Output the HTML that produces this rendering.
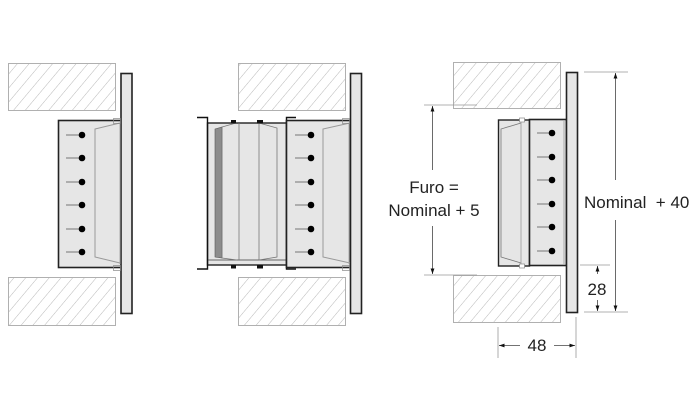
<!DOCTYPE html>
<html><head><style>
html,body{margin:0;padding:0;background:#fff;}
svg{display:block;}
text{font-family:"Liberation Sans",Arial,sans-serif;fill:#222;white-space:pre;}
</style></head><body>
<svg width="690" height="420" viewBox="0 0 690 420" xmlns="http://www.w3.org/2000/svg">
<defs>
<pattern id="h" patternUnits="userSpaceOnUse" width="9" height="9" patternTransform="rotate(40)">
<rect width="9" height="9" fill="#fff"/>
<line x1="0" y1="0" x2="0" y2="9" stroke="#b0b0b0" stroke-width="0.9"/>
</pattern>
<marker id="a" viewBox="0 0 10 10" refX="10" refY="5" markerWidth="7" markerHeight="7" orient="auto-start-reverse"><path d="M0,1.5 L10,5 L0,8.5 z" fill="#111"/></marker>
</defs>

<!-- hatched blocks -->
<g fill="url(#h)" stroke="#b0b0b0" stroke-width="1">
<rect x="8.5" y="63.5" width="107" height="47"/>
<rect x="8.5" y="277.5" width="107" height="48"/>
<rect x="238.5" y="63.5" width="107" height="47"/>
<rect x="238.5" y="277.5" width="107" height="48"/>
<rect x="453.5" y="62.5" width="107" height="46"/>
<rect x="453.5" y="275.5" width="107" height="47"/>
</g>

<!-- PANEL 1 -->
<rect x="58.5" y="120.5" width="63" height="147" fill="#e6e6e6" stroke="#222" stroke-width="1.6"/>
<rect x="121" y="73.5" width="11" height="240" fill="#e6e6e6" stroke="#222" stroke-width="1.6"/>
<path d="M120,123 L95,129 L95,257 L120,263" fill="none" stroke="#999" stroke-width="1"/>
<line x1="120" y1="124" x2="120" y2="264" stroke="#aaa" stroke-width="1"/>
<rect x="113.5" y="118.5" width="7" height="5" fill="none" stroke="#888" stroke-width="0.7"/>
<rect x="113.5" y="265.5" width="7" height="5" fill="none" stroke="#888" stroke-width="0.7"/>
<g stroke="#777" stroke-width="1">
<line x1="66" y1="135" x2="81" y2="135"/><line x1="66" y1="158" x2="81" y2="158"/><line x1="66" y1="182" x2="81" y2="182"/><line x1="66" y1="205" x2="81" y2="205"/><line x1="66" y1="229" x2="81" y2="229"/><line x1="66" y1="252" x2="81" y2="252"/>
</g>
<g fill="#000"><circle cx="82" cy="135" r="3.3"/><circle cx="82" cy="158" r="3.3"/><circle cx="82" cy="182" r="3.3"/><circle cx="82" cy="205" r="3.3"/><circle cx="82" cy="229" r="3.3"/><circle cx="82" cy="252" r="3.3"/></g>

<!-- PANEL 2 -->
<rect x="207.5" y="123" width="79" height="142" fill="#e6e6e6" stroke="#222" stroke-width="1.4"/>
<line x1="207" y1="260" x2="286" y2="260" stroke="#666" stroke-width="1"/>
<polygon points="215,129 222,127 222,258 215,257" fill="#8c8c8c" stroke="#555" stroke-width="0.6"/>
<path d="M236,123 L222,127 L222,258 L237,260" fill="none" stroke="#777" stroke-width="0.8"/>
<line x1="239" y1="123" x2="239" y2="260" stroke="#777" stroke-width="0.8"/>
<line x1="259" y1="123" x2="259" y2="260" stroke="#777" stroke-width="0.8"/>
<path d="M259,123 L277,128 L277,257 L259,260" fill="none" stroke="#777" stroke-width="0.8"/>
<g fill="#111"><rect x="231" y="120" width="5" height="3.5"/><rect x="257" y="120" width="6" height="3.5"/><rect x="231" y="265" width="5" height="3.5"/><rect x="257" y="265" width="6" height="3.5"/></g>
<path d="M197,117.5 L207.5,117.5 L207.5,269 L197,269" fill="none" stroke="#111" stroke-width="1.4"/>
<path d="M296,117.5 L286.5,117.5 L286.5,269 L296,269" fill="none" stroke="#111" stroke-width="1.4"/>
<rect x="286.5" y="120.5" width="64" height="147" fill="#e6e6e6" stroke="#222" stroke-width="1.6"/>
<rect x="350.5" y="73.5" width="11" height="240" fill="#e6e6e6" stroke="#222" stroke-width="1.6"/>
<path d="M350,123 L323,129 L323,257 L350,263" fill="none" stroke="#999" stroke-width="1"/>
<line x1="349" y1="124" x2="349" y2="264" stroke="#aaa" stroke-width="1"/>
<rect x="342.5" y="118.5" width="7" height="5" fill="none" stroke="#888" stroke-width="0.7"/>
<rect x="342.5" y="265.5" width="7" height="5" fill="none" stroke="#888" stroke-width="0.7"/>
<g stroke="#777" stroke-width="1">
<line x1="295" y1="135" x2="310" y2="135"/><line x1="295" y1="158" x2="310" y2="158"/><line x1="295" y1="182" x2="310" y2="182"/><line x1="295" y1="205" x2="310" y2="205"/><line x1="295" y1="229" x2="310" y2="229"/><line x1="295" y1="252" x2="310" y2="252"/>
</g>
<g fill="#000"><circle cx="311" cy="135" r="3.3"/><circle cx="311" cy="158" r="3.3"/><circle cx="311" cy="182" r="3.3"/><circle cx="311" cy="205" r="3.3"/><circle cx="311" cy="229" r="3.3"/><circle cx="311" cy="252" r="3.3"/></g>

<!-- PANEL 3 -->
<rect x="498.5" y="120" width="31" height="146" fill="#e6e6e6" stroke="#222" stroke-width="1.4"/>
<path d="M521,123 L501,129 L501,257 L521,263" fill="none" stroke="#777" stroke-width="0.8"/>
<line x1="521" y1="121" x2="521" y2="265" stroke="#999" stroke-width="0.8"/>
<rect x="519.5" y="118" width="5" height="4" fill="#fff" stroke="#888" stroke-width="0.7"/>
<rect x="519.5" y="264" width="5" height="4" fill="#fff" stroke="#888" stroke-width="0.7"/>
<rect x="529.5" y="119.5" width="37" height="146" fill="#e6e6e6" stroke="#222" stroke-width="1.6"/>
<rect x="566.5" y="72.5" width="11" height="240" fill="#e6e6e6" stroke="#222" stroke-width="1.6"/>
<line x1="564" y1="121" x2="564" y2="264" stroke="#aaa" stroke-width="1"/>
<g stroke="#777" stroke-width="1">
<line x1="537" y1="133" x2="552" y2="133"/><line x1="537" y1="157" x2="552" y2="157"/><line x1="537" y1="180" x2="552" y2="180"/><line x1="537" y1="204" x2="552" y2="204"/><line x1="537" y1="227" x2="552" y2="227"/><line x1="537" y1="251" x2="552" y2="251"/>
</g>
<g fill="#000"><circle cx="552" cy="133" r="3.3"/><circle cx="552" cy="157" r="3.3"/><circle cx="552" cy="180" r="3.3"/><circle cx="552" cy="204" r="3.3"/><circle cx="552" cy="227" r="3.3"/><circle cx="552" cy="251" r="3.3"/></g>

<!-- dimensions -->
<g stroke="#999" stroke-width="0.8" fill="none">
<line x1="424" y1="105" x2="477" y2="105"/>
<line x1="424" y1="275" x2="477" y2="275"/>
<line x1="584" y1="72" x2="628" y2="72"/>
<line x1="584" y1="312" x2="628" y2="312"/>
<line x1="580" y1="265" x2="610" y2="265"/>
<line x1="498" y1="327" x2="498" y2="358"/>
<line x1="576" y1="317" x2="576" y2="358"/>
</g>
<g stroke="#444" stroke-width="0.8" fill="none">
<line x1="432.5" y1="106" x2="432.5" y2="170" marker-start="url(#a)"/>
<line x1="432.5" y1="226" x2="432.5" y2="274" marker-end="url(#a)"/>
<line x1="615.5" y1="73" x2="615.5" y2="180" marker-start="url(#a)"/>
<line x1="615.5" y1="220" x2="615.5" y2="311" marker-end="url(#a)"/>
<line x1="597.5" y1="266" x2="597.5" y2="274" marker-start="url(#a)"/>
<line x1="597.5" y1="300" x2="597.5" y2="311" marker-end="url(#a)"/>
<line x1="499" y1="345.5" x2="520" y2="345.5" marker-start="url(#a)"/>
<line x1="554" y1="345.5" x2="575" y2="345.5" marker-end="url(#a)"/>
</g>
<text x="434" y="193" font-size="17" text-anchor="middle">Furo =</text>
<text x="434" y="216" font-size="17" text-anchor="middle">Nominal + 5</text>
<text x="584" y="208" font-size="17">Nominal  + 40</text>
<text x="597" y="295" font-size="17" text-anchor="middle">28</text>
<text x="537" y="351" font-size="17" text-anchor="middle">48</text>
</svg>
</body></html>
